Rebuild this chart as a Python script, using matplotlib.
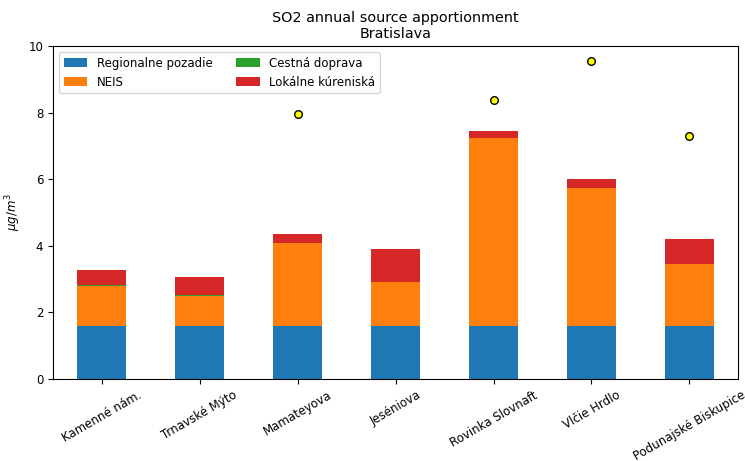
import numpy as np
import pandas as pd
import matplotlib
matplotlib.use("Agg")
import matplotlib.pyplot as plt

# stations
stations = ["Kamenné nám.", "Trnavské Mýto", "Mamateyova", "Jeséniova",
            "Rovinka Slovnaft", "Vlčie Hrdlo", "Podunajské Biskupice"]

# source contributions (ug/m3)
regional = [1.6, 1.6, 1.6, 1.6, 1.6, 1.6, 1.6]
neis = [1.2, 0.9, 2.48, 1.3, 5.64, 4.13, 1.85]
traffic = [0.01, 0.01, 0.01, 0.01, 0.01, 0.01, 0.01]
heating = [0.45, 0.54, 0.25, 0.98, 0.19, 0.26, 0.74]

# measured annual means
measured = [np.nan, np.nan, 7.96, np.nan, 8.39, 9.54, 7.31]

plt.rcParams["font.size"] = 8.5

df = pd.DataFrame({
    "Regionalne pozadie": regional,
    "NEIS": neis,
    "Cestná doprava": traffic,
    "Lokálne kúreniská": heating,
}, index=stations)

fig = plt.figure(figsize=(7.45, 4.61), dpi=100)
ax = fig.add_axes([0.071, 0.178, 0.92, 0.722])
df.plot.bar(stacked=True, ax=ax, rot=30)
ax.scatter(np.arange(len(stations)), measured, color="yellow", edgecolor="black",
           s=30, zorder=3)
ax.set_ylim(0, 10)
ax.set_ylabel("$\\mu g/m^3$")
ax.set_title("SO2 annual source apportionment\nBratislava", fontsize=10.4)
ax.legend(loc="upper left", ncol=2)

fig.savefig("out.png")
